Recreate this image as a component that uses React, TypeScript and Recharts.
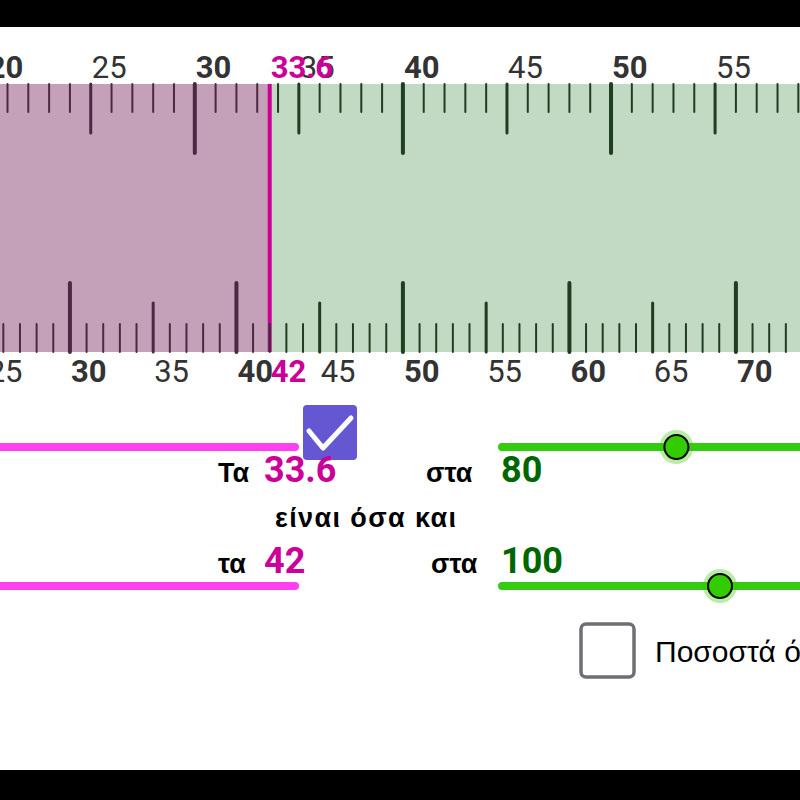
import { ComposedChart, XAxis, YAxis, ReferenceArea, ReferenceLine, ReferenceDot, Scatter } from 'recharts';

// ruler labels (top ruler = the "33.6" ruler, bottom ruler = the "42" ruler)
const topLabels = [20, 25, 30, 35, 40, 45, 50, 55];
const bottomLabels = [25, 30, 35, 40, 45, 50, 55, 60, 65, 70];
const topValue = 33.6;
const bottomValue = 42;
const percentValues = [80, 100];

// visible part of the bottom ruler and of the green sliders
const bottomDomain = [25.8, 73.85];
const sliderDomain = [-230.3, 136.7];
const ratio = percentValues[0] / percentValues[1];
const topDomain = [bottomDomain[0] * ratio, bottomDomain[1] * ratio];

const topTicks = Array.from({ length: 41 }, (_, i) => 20 + i);
const bottomTicks = Array.from({ length: 51 }, (_, i) => 25 + i);

const W = 800;
const H = 800;
const RULER_TOP = 84;
const RULER_BOTTOM = 352;
const TOP_BASE = 78;
const BOTTOM_BASE = 382;
const SLIDER_Y = [447, 586];
const FONT = 'Roboto, "Liberation Sans", sans-serif';
const WORD_FONT = '"Liberation Sans", Arial, sans-serif';

const tickLen = (t: number) => (t % 10 === 0 ? 69 : t % 5 === 0 ? 49 : 28);
const tickWidth = (t: number) => (t % 10 === 0 ? 4 : t % 5 === 0 ? 3 : 2);

const topMarks = topTicks.map((v) => ({ v, y: RULER_TOP }));
const bottomMarks = bottomTicks.map((v) => ({ v, y: RULER_BOTTOM }));
const topLabelRows = topLabels.map((v) => ({ v, y: TOP_BASE }));
const bottomLabelRows = bottomLabels.map((v) => ({ v, y: BOTTOM_BASE }));
const sliderDots = percentValues.map((v, i) => ({ v, y: SLIDER_Y[i] }));

const RulerLabel = (p: any) => {
  const value = p.payload.v;
  return (
    <text
      x={p.cx + 1}
      y={p.cy}
      fontFamily={FONT}
      fontSize={31}
      fontWeight={value % 10 === 0 ? 'bold' : 'normal'}
      fill="#333"
    >
      {value}
    </text>
  );
};

// one ruler graduation, hanging down (top ruler) or standing up (bottom ruler)
const TickMark = (dir: number, value: number) => (p: any) => {
  const t = p.payload.v;
  return (
    <line
      x1={p.cx}
      x2={p.cx}
      y1={p.cy}
      y2={p.cy + dir * tickLen(t)}
      stroke={t < value ? '#4d2842' : '#1f3d20'}
      strokeWidth={tickWidth(t)}
      strokeLinecap="round"
    />
  );
};

const ValueLabel = (text: string) => (p: any) => (
  <text x={p.cx + 1} y={p.cy} fontFamily={FONT} fontSize={31} fontWeight="bold" fill="#cc0099">
    {text}
  </text>
);

const SliderDot = (p: any) => (
  <g>
    <circle cx={p.cx} cy={p.cy} r={17} fill="#33cc00" fillOpacity={0.35} />
    <circle cx={p.cx} cy={p.cy} r={12} fill="#33cc00" stroke="#000" strokeWidth={2} />
  </g>
);

const Controls = () => (
  <svg width={W} height={H} style={{ position: 'absolute', left: 0, top: 0, pointerEvents: 'none' }}>
    <rect x={0} y={0} width={W} height={27} fill="#000" />
    <rect x={0} y={770} width={W} height={30} fill="#000" />
    {SLIDER_Y.map((y) => (
      <line key={y} x1={-10} x2={295} y1={y} y2={y} stroke="#ff40f0" strokeWidth={8} strokeLinecap="round" />
    ))}
    <rect x={303} y={405} width={54} height={55} rx={4} fill="#6557d2" />
    <polyline points="309,431 323,448 351,418" fill="none" stroke="#fff" strokeWidth={5} strokeLinecap="round" strokeLinejoin="round" />

    <g fontFamily={WORD_FONT} fontWeight="bold" fontSize={27} fill="#000">
      <text x={218} y={482}>Τα</text>
      <text x={426} y={482}>στα</text>
      <text x={275} y={527} textLength={181} lengthAdjust="spacing">είναι όσα και</text>
      <text x={218} y={573}>τα</text>
      <text x={431} y={573}>στα</text>
    </g>
    <g fontFamily={FONT} fontWeight="bold" fontSize={36}>
      <text x={264} y={482} fill="#cc0099">{topValue}</text>
      <text x={501} y={482} fill="#006600">{percentValues[0]}</text>
      <text x={264} y={573} fill="#cc0099">{bottomValue}</text>
      <text x={501} y={573} fill="#006600">{percentValues[1]}</text>
    </g>
    <rect x={581} y={624} width={53} height={53} rx={5} fill="#fff" stroke="#6e6e75" strokeWidth={3.5} />
    <text x={655} y={662} fontFamily={WORD_FONT} fontSize={30} fill="#000">Ποσοστά ό</text>
  </svg>
);

export default function App() {
  return (
    <div style={{ position: 'absolute', left: 0, top: 0, width: W, height: H, background: '#fff', overflow: 'hidden' }}>
      <ComposedChart width={W} height={H} margin={{ top: 0, right: 0, bottom: 0, left: 0 }}>
        <XAxis xAxisId="top" dataKey="v" type="number" domain={topDomain} allowDataOverflow hide />
        <XAxis xAxisId="bottom" dataKey="v" type="number" domain={bottomDomain} allowDataOverflow hide />
        <XAxis xAxisId="slider" dataKey="v" type="number" domain={sliderDomain} allowDataOverflow hide />
        <YAxis yAxisId="px" dataKey="y" type="number" domain={[0, H]} reversed allowDataOverflow hide />

        <ReferenceArea xAxisId="bottom" yAxisId="px" x1={bottomDomain[0]} x2={bottomValue} y1={RULER_TOP} y2={RULER_BOTTOM} fill="#c4a1b9" fillOpacity={1} />
        <ReferenceArea xAxisId="bottom" yAxisId="px" x1={bottomValue} x2={bottomDomain[1]} y1={RULER_TOP} y2={RULER_BOTTOM} fill="#c2dac4" fillOpacity={1} />

        <Scatter xAxisId="top" yAxisId="px" data={topMarks} shape={TickMark(1, topValue)} isAnimationActive={false} />
        <Scatter xAxisId="bottom" yAxisId="px" data={bottomMarks} shape={TickMark(-1, bottomValue)} isAnimationActive={false} />
        <Scatter xAxisId="top" yAxisId="px" data={topLabelRows} shape={RulerLabel} isAnimationActive={false} />
        <Scatter xAxisId="bottom" yAxisId="px" data={bottomLabelRows} shape={RulerLabel} isAnimationActive={false} />

        <ReferenceLine
          xAxisId="bottom"
          yAxisId="px"
          segment={[{ x: bottomValue, y: RULER_TOP }, { x: bottomValue, y: RULER_BOTTOM }]}
          stroke="#cc0099"
          strokeWidth={4}
        />
        <ReferenceDot xAxisId="top" yAxisId="px" x={topValue} y={TOP_BASE} shape={ValueLabel(String(topValue))} />
        <ReferenceDot xAxisId="bottom" yAxisId="px" x={bottomValue} y={BOTTOM_BASE} shape={ValueLabel(String(bottomValue))} />

        {SLIDER_Y.map((y) => (
          <ReferenceLine
            key={`g${y}`}
            xAxisId="slider"
            yAxisId="px"
            segment={[{ x: 0, y }, { x: sliderDomain[1], y }]}
            stroke="#33cc11"
            strokeWidth={8}
            strokeLinecap="round"
          />
        ))}
        <Scatter xAxisId="slider" yAxisId="px" data={sliderDots} shape={SliderDot} isAnimationActive={false} />
      </ComposedChart>
      <Controls />
    </div>
  );
}
